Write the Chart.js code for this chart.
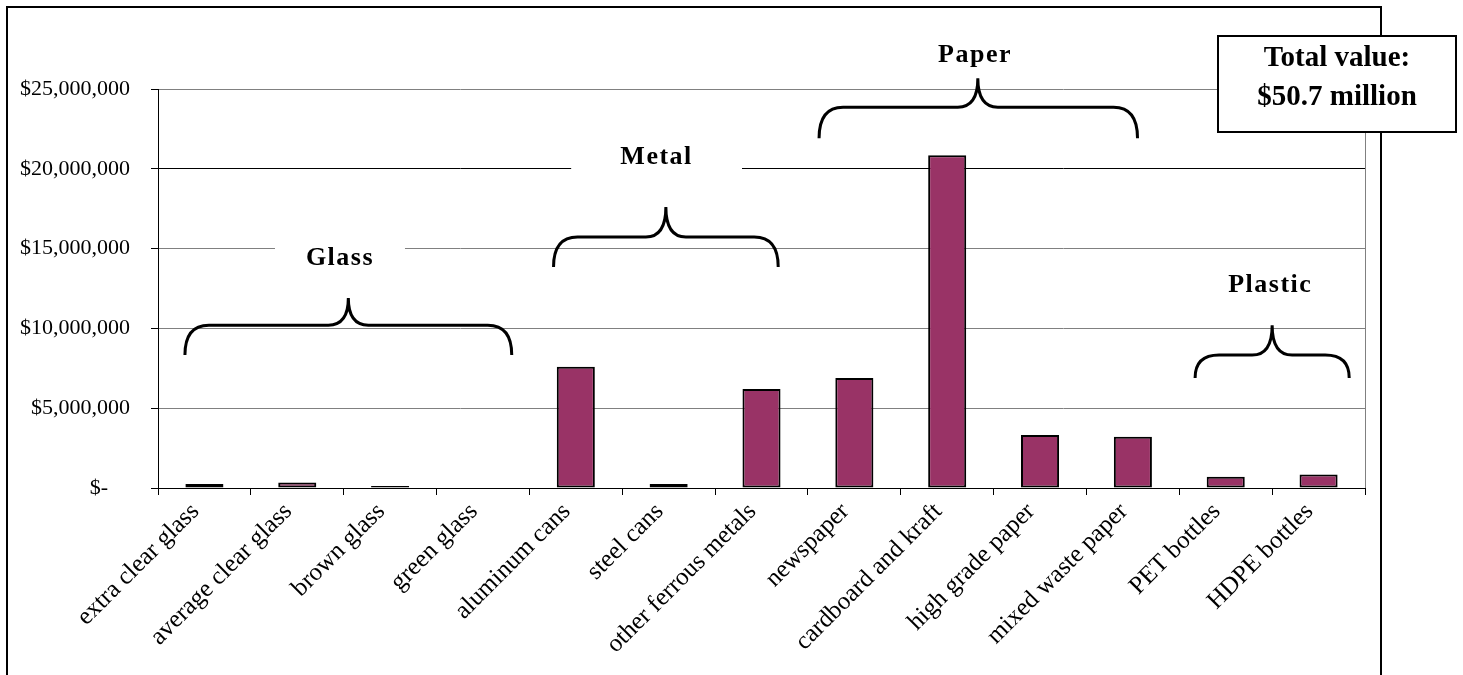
<!DOCTYPE html>
<html>
<head>
<meta charset="utf-8">
<title>Value of recovered materials</title>
<script src="https://cdn.jsdelivr.net/npm/chart.js@4.4.1/dist/chart.umd.min.js"></script>
<style>
  html, body { margin: 0; padding: 0; background: #fff; }
  #wrap { position: relative; width: 1463px; height: 675px; }
</style>
</head>
<body>
<div id="wrap"><canvas id="chart"></canvas></div>
<script>
// materials and their estimated value in dollars
const materials = [
  'extra clear glass', 'average clear glass', 'brown glass', 'green glass',
  'aluminum cans', 'steel cans', 'other ferrous metals',
  'newspaper', 'cardboard and kraft', 'high grade paper', 'mixed waste paper',
  'PET bottles', 'HDPE bottles'
];
const values = [
  250000, 350000, 120000, 0,
  7600000, 250000, 6200000,
  6900000, 20850000, 3320000, 3210000,
  710000, 850000
];
const yTickValues = [0, 5000000, 10000000, 15000000, 20000000, 25000000];
const groupNames = ['Glass', 'Metal', 'Paper', 'Plastic'];
const totalLines = ['Total value:', '$50.7 million'];

// where each curly brace sits, in axis units (x = category index, y = dollars)
const braces = [
  { from: -0.21, to: 3.31, tip: 1.55, bar: 10.2e6, peak: 11.9e6, end: 8.33e6, labelX: 1.46, labelY: 14.4e6, gap: 1.4 },
  { from: 3.76, to: 6.18, tip: 4.97, bar: 15.72e6, peak: 17.6e6, end: 13.84e6, labelX: 4.87, labelY: 20.73e6, gap: 1.84 },
  { from: 6.62, to: 10.05, tip: 8.33, bar: 23.86e6, peak: 25.67e6, end: 21.92e6, labelX: 8.3, labelY: 27.11e6, gap: 0 },
  { from: 10.67, to: 12.33, tip: 11.5, bar: 8.33e6, peak: 10.2e6, end: 6.89e6, labelX: 11.48, labelY: 12.71e6, gap: 0 }
];

const serif = '"Liberation Serif", "Times New Roman", serif';

function drawBrace(ctx, x1, x2, tip, yBar, yPeak, yEnd) {
  const r = 24;
  const c = 20;
  ctx.beginPath();
  ctx.moveTo(x1, yEnd);
  ctx.quadraticCurveTo(x1, yBar, x1 + r, yBar);
  ctx.lineTo(tip - c, yBar);
  ctx.quadraticCurveTo(tip, yBar, tip, yPeak);
  ctx.quadraticCurveTo(tip, yBar, tip + c, yBar);
  ctx.lineTo(x2 - r, yBar);
  ctx.quadraticCurveTo(x2, yBar, x2, yEnd);
  ctx.stroke();
}

// frame, braces, group names and the total box
const decorations = {
  id: 'decorations',
  beforeDraw(chart) {
    const ctx = chart.ctx;
    ctx.save();
    ctx.strokeStyle = '#000';
    ctx.lineWidth = 2;
    ctx.strokeRect(7, 7, 1374, 720);
    ctx.restore();
  },
  afterDraw(chart) {
    const { ctx, chartArea, scales: { x, y } } = chart;
    ctx.save();

    // right edge of the plot area
    ctx.strokeStyle = '#808080';
    ctx.lineWidth = 1;
    ctx.beginPath();
    ctx.moveTo(chartArea.right + 0.5, chartArea.top);
    ctx.lineTo(chartArea.right + 0.5, chartArea.bottom);
    ctx.stroke();

    const step = x.getPixelForValue(1) - x.getPixelForValue(0);
    braces.forEach((b, i) => {
      const lx = x.getPixelForValue(b.labelX);
      const ly = y.getPixelForValue(b.labelY);
      if (b.gap > 0) {
        ctx.fillStyle = '#fff';
        ctx.fillRect(lx - b.gap * step / 2, ly - 17, b.gap * step, 36);
      }
      ctx.fillStyle = '#000';
      ctx.font = 'bold 26px ' + serif;
      ctx.letterSpacing = '1.5px';
      ctx.textAlign = 'center';
      ctx.textBaseline = 'middle';
      ctx.fillText(groupNames[i], lx, ly);

      ctx.strokeStyle = '#000';
      ctx.lineWidth = 3;
      drawBrace(ctx,
        x.getPixelForValue(b.from), x.getPixelForValue(b.to), x.getPixelForValue(b.tip),
        y.getPixelForValue(b.bar), y.getPixelForValue(b.peak), y.getPixelForValue(b.end));
    });

    // total value box
    ctx.letterSpacing = '0px';
    ctx.fillStyle = '#fff';
    ctx.fillRect(1218, 36, 238, 96);
    ctx.strokeStyle = '#000';
    ctx.lineWidth = 2;
    ctx.strokeRect(1218, 36, 238, 96);
    ctx.fillStyle = '#000';
    ctx.font = 'bold 29px "Liberation Serif"';
    ctx.textAlign = 'center';
    ctx.textBaseline = 'middle';
    ctx.fillText(totalLines[0], 1337, 59);
    ctx.fillText(totalLines[1], 1337, 98);
    ctx.restore();
  }
};

Chart.defaults.font.family = serif;
Chart.defaults.color = '#000';

const chart = document.querySelector('#chart').getContext('2d');

new Chart(chart, {
  type: 'bar',
  data: {
    labels: materials,
    datasets: [
      {
        data: values,
        backgroundColor: '#993366',
        borderColor: '#000',
        borderWidth: 2,
        borderSkipped: false,
        barPercentage: 0.41,
        categoryPercentage: 1,
      },
    ],
  },
  options: {
    responsive: true,
    maintainAspectRatio: false,
    animation: false,
    layout: { padding: { left: 0, top: 89, right: 98, bottom: 0 } },
    plugins: {
      legend: { display: false },
      tooltip: { enabled: false },
    },
    scales: {
      x: {
        afterFit(scale) { scale.height = 187; },
        border: { color: '#000', width: 1 },
        grid: { drawOnChartArea: false, drawTicks: true, tickLength: 7, color: '#000' },
        ticks: {
          autoSkip: false,
          minRotation: 45,
          maxRotation: 45,
          padding: 2,
          labelOffset: -9,
          font: { size: 25 },
        },
      },
      y: {
        min: 0,
        max: 25000000,
        afterFit(scale) { scale.width = 158; },
        afterBuildTicks(scale) { scale.ticks = yTickValues.map(v => ({ value: v })); },
        border: { color: '#000', width: 1 },
        grid: {
          color: ctx => (ctx.tick && (ctx.tick.value === 20000000 || ctx.tick.value === 0)) ? '#000' : '#808080',
          tickColor: '#000',
          tickLength: 7,
        },
        ticks: {
          padding: 21,
          font: { size: 22 },
          callback: v => v === 0 ? '$-    ' : '$' + v.toLocaleString('en-US'),
        },
      },
    },
  },
  plugins: [decorations],
});
</script>
</body>
</html>
